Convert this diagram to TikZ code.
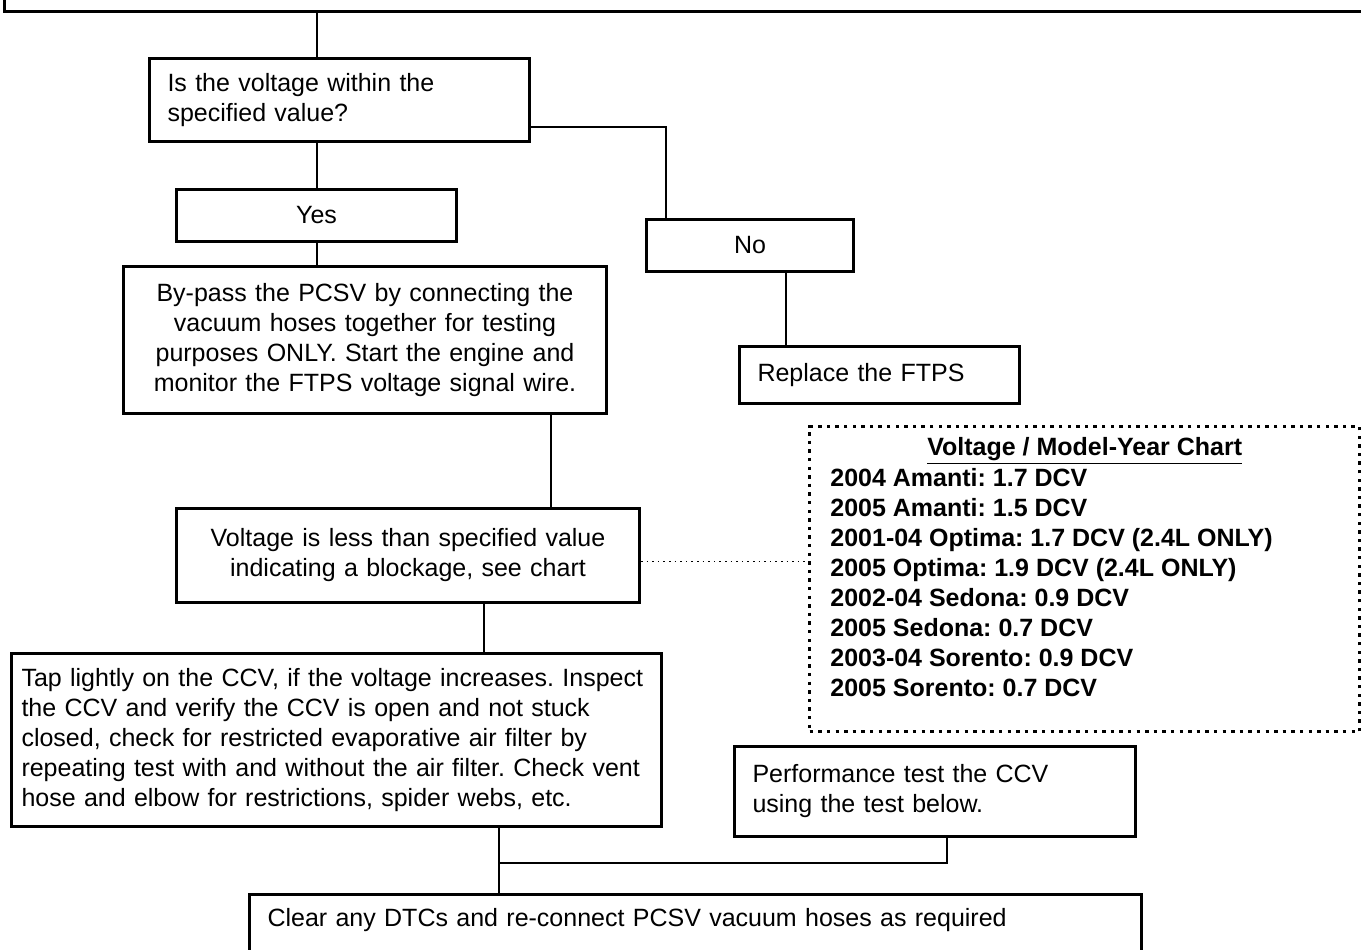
\documentclass[tikz,border=0pt]{standalone}
\usepackage{fontspec}
\setmainfont{Liberation Sans}
\usetikzlibrary{positioning}
\newcommand{\boxfont}{\fontsize{12.5pt}{15pt}\selectfont\frenchspacing}

\begin{document}
\begin{tikzpicture}[x=0.5pt, y=-0.5pt,
	box/.style={draw, line width=1.5pt, anchor=north west, inner xsep=9pt, inner ysep=0pt, align=left, font=\boxfont},
	cbox/.style={box, align=center},
	wire/.style={line width=1pt},
	chartbox/.style={draw, line width=1.7pt, dash pattern=on 1.7pt off 2.6pt, anchor=north west},
	chartline/.style={font=\bfseries\boxfont, inner sep=0pt}]
	\useasboundingbox (0,0) rectangle (1361,949);
	\clip (0,0) rectangle (1361,949);
	\node[box, minimum width=686pt, minimum height=30pt] (top) at (3,-50) {};
	\node[box, text width=172pt, minimum height=41.5pt] (ask) at (148,57) {Is the voltage within the\\specified value?};
	\node[cbox, text width=122pt, minimum height=26pt] (yes) at (175,188) {Yes};
	\node[cbox, text width=85.5pt, minimum height=26pt] (no) at (645,218) {No};
	\node[box, text width=122pt, minimum height=28.5pt] (replace) at (738,345) {Replace the FTPS};
	\node[cbox, text width=223.5pt, minimum height=73.5pt] (bypass) at (122,265) {By-pass the PCSV by connecting the\\vacuum hoses together for testing\\purposes ONLY. Start the engine and\\monitor the FTPS voltage signal wire.};
	\node[cbox, text width=213.5pt, minimum height=47pt] (less) at (175,507) {Voltage is less than specified value\\indicating a blockage, see chart};
	\node[chartbox, minimum width=275pt, minimum height=152.5pt] (chart) at (808,425) {};
	\node[chartline, below=6pt of chart.north] (title) {\underline{Voltage / Model-Year Chart}};
	\node[chartline, align=left, anchor=north west] (models) at (830,468) {2004 Amanti: 1.7 DCV\\2005 Amanti: 1.5 DCV\\2001-04 Optima: 1.7 DCV (2.4L ONLY)\\2005 Optima: 1.9 DCV (2.4L ONLY)\\2002-04 Sedona: 0.9 DCV\\2005 Sedona: 0.7 DCV\\2003-04 Sorento: 0.9 DCV\\2005 Sorento: 0.7 DCV};
	\node[box, inner xsep=5pt, text width=315pt, minimum height=86.5pt] (tap) at (10,652) {Tap lightly on the CCV, if the voltage increases. Inspect\\the CCV and verify the CCV is open and not stuck\\closed, check for restricted evaporative air filter by\\repeating test with and without the air filter. Check vent\\hose and elbow for restrictions, spider webs, etc.};
	\node[box, text width=182.5pt, minimum height=45pt] (perf) at (733,745) {Performance test the CCV\\using the test below.};
	\node[box, inner ysep=7pt, text depth=20pt, text width=428pt] (clear) at (248,893) {Clear any DTCs and re-connect PCSV vacuum hoses as required};
	% connectors
	\draw[wire] (yes.north |- top.south) -- (yes.north |- ask.north);
	\draw[wire] (yes.north |- ask.south) -- (yes.north);
	\draw[wire] (yes.south) -- (yes.south |- bypass.north);
	\draw[wire] ([yshift=8pt]ask.south east) -| ([xshift=10.5pt]no.north west);
	\draw[wire] ([xshift=18pt]no.south) -- ([xshift=18pt]no.south |- replace.north);
	\draw[wire] ([xshift=93pt]bypass.south) -- ([xshift=93pt]bypass.south |- less.north);
	\draw[dotted, line width=0.8pt] ([yshift=-3pt]less.east) -- ([yshift=-3pt]chart.west |- less.east);
	\draw[wire] ([xshift=38pt]less.south) -- ([xshift=38pt]less.south |- tap.north);
	\path ([xshift=81pt]tap.south) ++(0,35) coordinate (join);
	\draw[wire] ([xshift=81pt]tap.south) -- (join) -- (join |- clear.north);
	\draw[wire] ([xshift=6pt]perf.south) |- (join);
\end{tikzpicture}
\end{document}
